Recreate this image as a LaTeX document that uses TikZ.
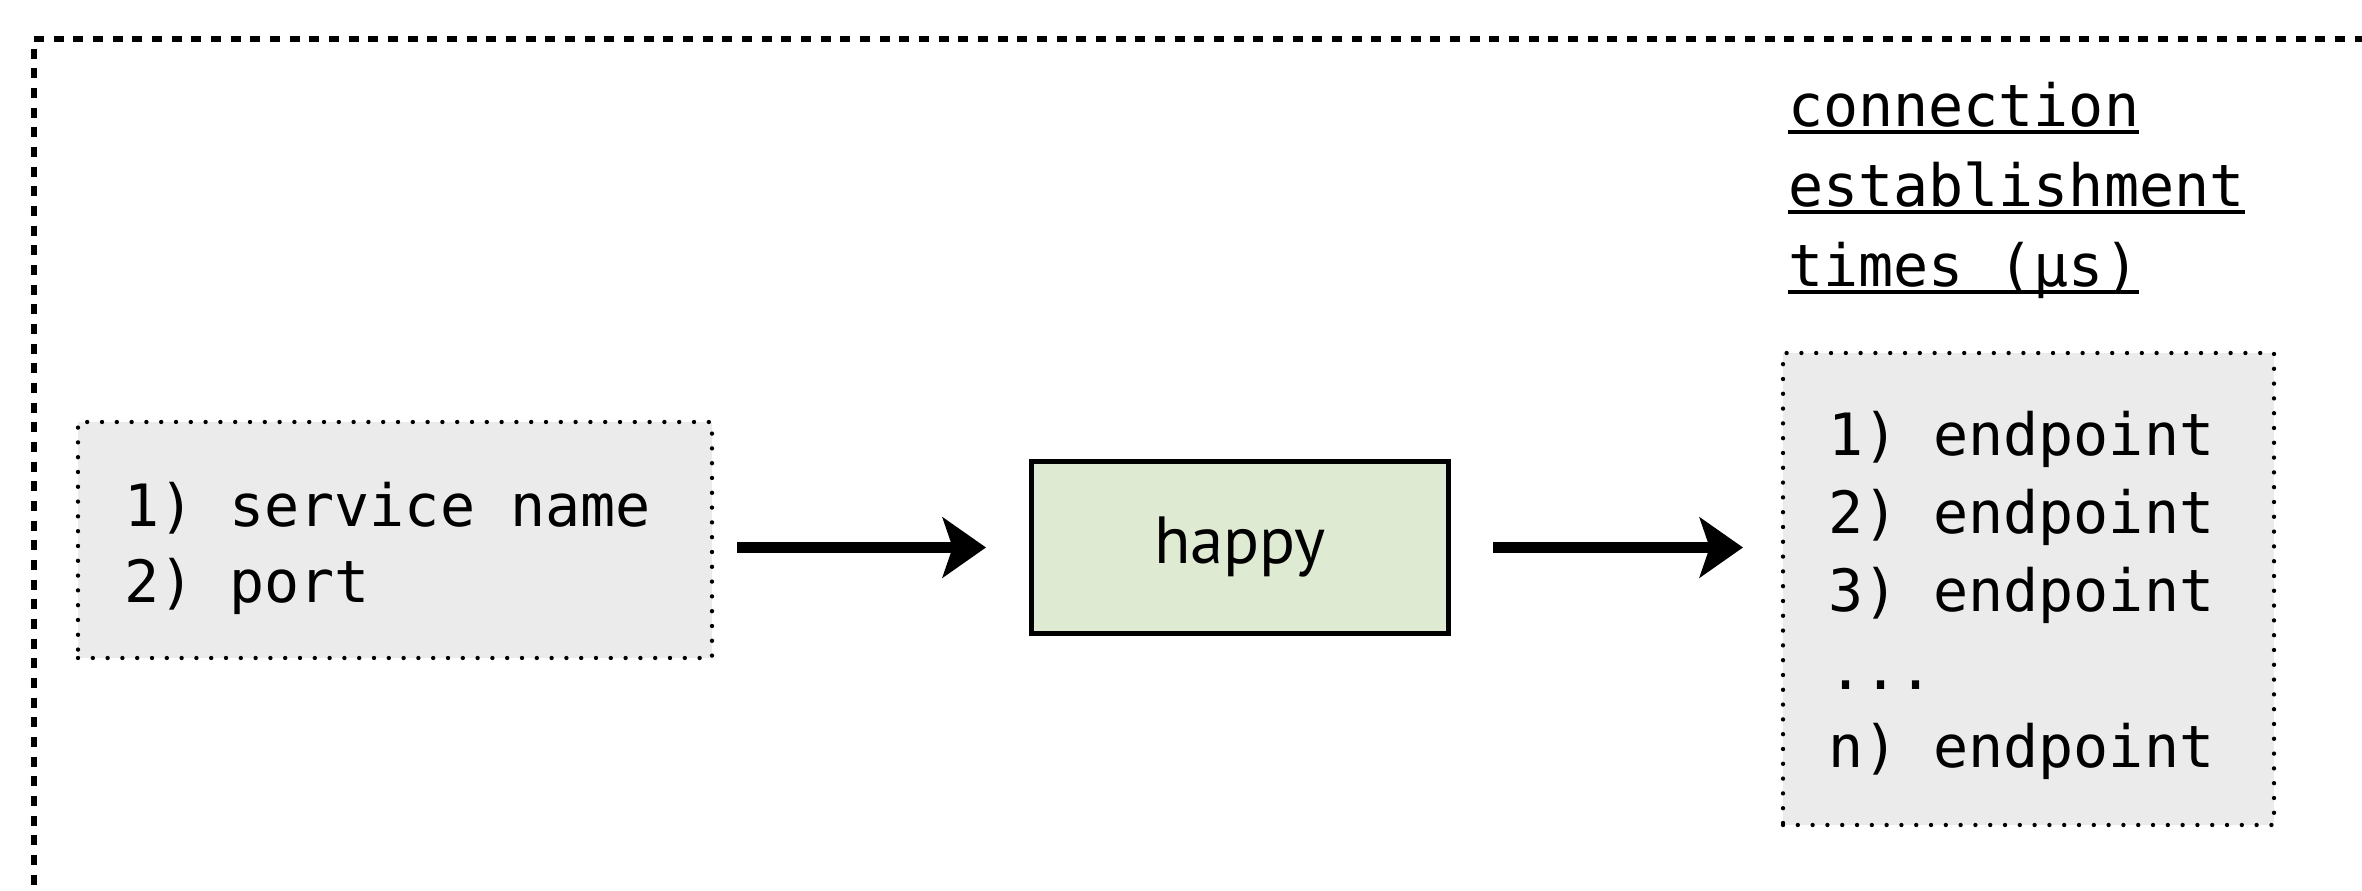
\documentclass[tikz,border=0pt]{standalone}
\usepackage{fontspec}
\setmonofont{DejaVu Sans Mono}
\newfontfamily\labelfont{PT Sans}
\usetikzlibrary{arrows.meta}
\definecolor{listgray}{RGB}{235,235,235}
\definecolor{procgreen}{RGB}{223,234,211}

\begin{document}
\begin{tikzpicture}[x=0.3pt,y=-0.3pt,
  frame/.style={line width=1.6pt, dash pattern=on 3pt off 2.9pt},
  listbox/.style={fill=listgray, draw=black, line width=1.3pt, line cap=round,
    dash pattern=on 0pt off 4.44pt, inner sep=0pt, outer sep=0pt},
  procbox/.style={fill=procgreen, draw=black, line width=1.5pt, inner sep=0pt,
    outer sep=0pt, font=\labelfont\fontsize{20}{24}\selectfont},
  entry/.style={anchor=base west, inner sep=0pt, outer sep=0pt,
    font=\ttfamily\fontsize{17.5}{21}\selectfont},
  underbar/.style={line width=1.35pt},
  flow/.style={line width=3.2pt, -{Stealth[length=13pt,width=18pt,inset=3pt]}},
]
\useasboundingbox (0,0) rectangle (2362,891);

% outer dashed frame (open to the right and bottom)
\draw[frame] (34,39) -- (2400,39);
\draw[frame, dash phase=3pt] (34,39) -- (34,930);

% input list
\node[listbox, minimum width=190.2pt, minimum height=70.8pt] (inputs) at (395,540) {};
\node[entry] (in1) at (124,527) {1) service name};
\node[entry] (in2) at (124,603) {2) port};

% the tool
\node[procbox, minimum width=125.1pt, minimum height=51.6pt] (happy) at (1240,547.5) {happy};

% output heading
\node[entry] (h1) at (1788,127) {connection};
\node[entry] (h2) at (1788,207) {establishment};
\node[entry] (h3) at (1788,287) {times (μs)};
\foreach \h in {h1,h2,h3}
  \draw[underbar] ([yshift=-1.5pt]\h.base west) -- ([yshift=-1.5pt]\h.base east);

% output list
\node[listbox, minimum width=147.3pt, minimum height=141.6pt] (outputs) at (2028.5,589) {};
\node[entry] (out1) at (1828,456) {1) endpoint};
\node[entry] (out2) at (1828,534) {2) endpoint};
\node[entry] (out3) at (1828,612) {3) endpoint};
\node[entry] (outdots) at (1828,690) {...};
\node[entry] (outn) at (1828,768) {n) endpoint};

% flow arrows
\draw[flow, shorten <=7.5pt, shorten >=13.65pt] (inputs.east |- happy.west) -- (happy.west);
\draw[flow, shorten <=13.35pt, shorten >=12pt] (happy.east) -- (outputs.west |- happy.east);
\end{tikzpicture}
\end{document}
